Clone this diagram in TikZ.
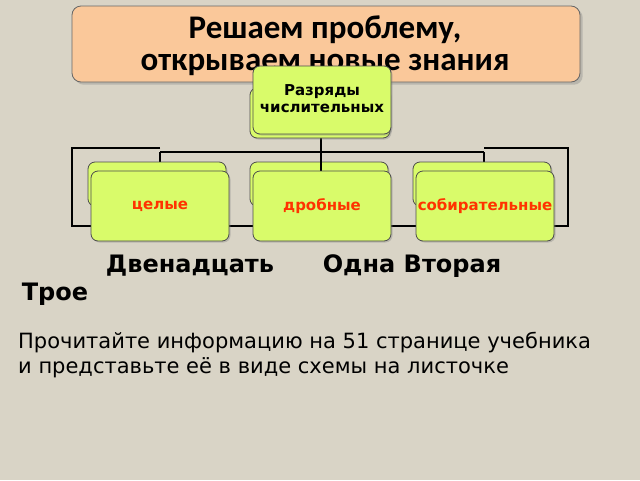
\documentclass[tikz,border=0pt]{standalone}
\usepackage{fontspec}
\setmainfont{DejaVu Sans}
\newfontfamily\titlefont{Carlito}
\usetikzlibrary{positioning,calc,shadows}

\definecolor{bgpaper}{HTML}{D9D4C6}
\definecolor{peach}{HTML}{FAC89A}
\definecolor{lime}{HTML}{D9FB6A}
\definecolor{labelred}{HTML}{FF3300}
\definecolor{pinkish}{HTML}{F0A0D8}

\begin{document}
\begin{tikzpicture}[
    x=1pt, y=-1pt,
    box/.style={draw=black!70, fill=lime, rounded corners=7pt, line width=0.8pt, drop shadow={opacity=0.35, shadow xshift=1.5pt, shadow yshift=-1.5pt}},
    label/.style={font=\bfseries\fontsize{15}{17}\selectfont, text=labelred},
    link/.style={line width=2pt, black},
    bigword/.style={font=\bfseries\fontsize{24}{28}\selectfont, anchor=base},
]
    % background
    \fill[bgpaper] (0,0) rectangle (640,480);
    \useasboundingbox (0,0) rectangle (640,480);

    % title
    \draw[fill=peach, draw=black!60, rounded corners=9pt, line width=0.8pt, drop shadow={opacity=0.35}] (72,6) rectangle (580,82);
    \node[font=\titlefont\bfseries\fontsize{33}{32}\selectfont, align=center] (title) at (325,46) {Решаем проблему,\\открываем новые знания};

    % connectors
    \coordinate (hub) at (321,152);
    \coordinate (lt) at (160,152);
    \coordinate (rt) at (484,152);
    \draw[link] (321,134) -- (hub);
    \draw[link] (lt) -- (rt);
    \draw[link] (lt) -- (160,172);
    \draw[link] (hub) -- (321,172);
    \draw[link] (rt) -- (484,172);
    \draw[line width=1.5pt] (160,148) -- (72,148) -- (72,226) -- (92,226);
    \draw[line width=1.5pt] (484,148) -- (568,148) -- (568,226) -- (552,226);
    \draw[line width=1.5pt] (228,226) -- (254,226) (390,226) -- (417,226);

    % root
    \draw[box] (250,88) rectangle (390,138);
    \draw[box] (253,66) rectangle (391,134);
    \node[font=\bfseries\fontsize{15}{17}\selectfont, align=center] (root) at (322,99) {Разряды\\числительных};

    % children
    \foreach \x/\name/\txt in {88/whole/целые, 250/frac/дробные, 413/coll/собирательные} {
        \draw[box] (\x,162) rectangle ++(138,44);
    }
    \fill[pinkish, draw=black!60] (281,176) arc[start angle=180, end angle=0, x radius=41, y radius=12];
    \draw[link] (321,160) -- (321,176);
    \foreach \x/\name/\txt in {91/whole/целые, 253/frac/дробные, 416/coll/собирательные} {
        \draw[box] (\x,171) rectangle ++(138,70);
        \node[label] (\name) at (\x+69,206) {\txt};
    }

    % words
    \node[bigword] (twelve) at (190,272) {Двенадцать};
    \node[bigword] (half) at (412,272) {Одна Вторая};
    \node[bigword] (three) at (55,300) {Трое};

    % task text
    \node[font=\fontsize{21}{25}\selectfont, align=left, anchor=north west, inner sep=0pt] (task) at (18,332) {Прочитайте информацию на 51 странице учебника\\и представьте её в виде схемы на листочке};
\end{tikzpicture}
\end{document}
